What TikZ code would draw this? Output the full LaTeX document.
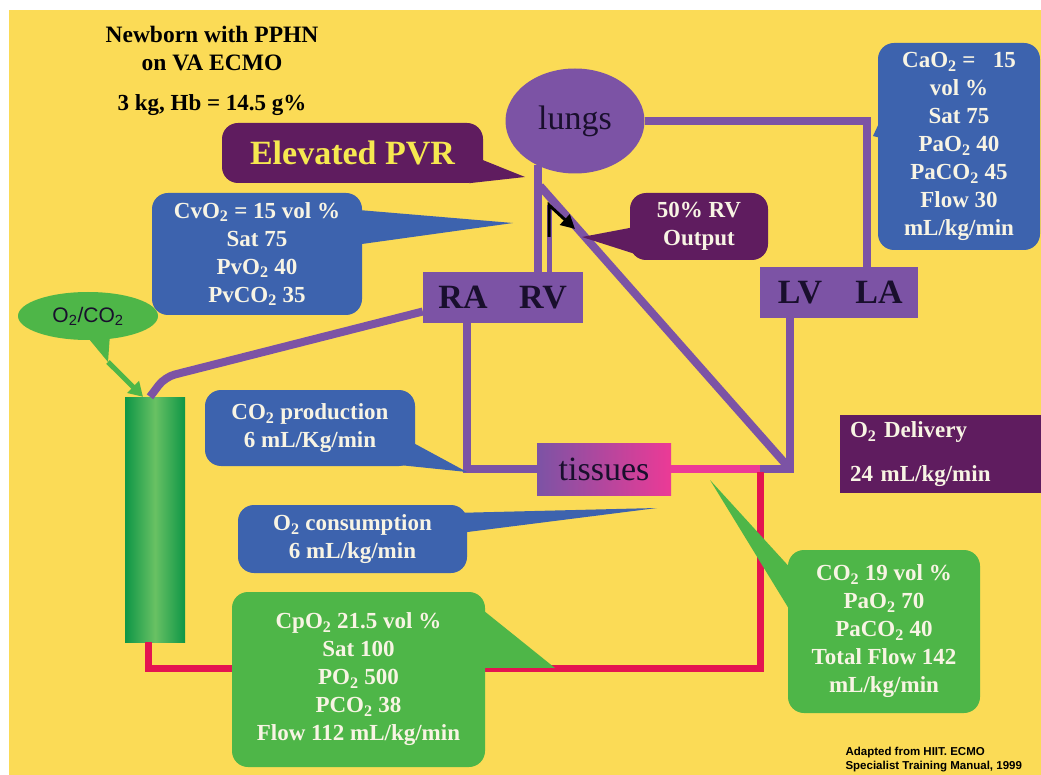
\documentclass[tikz,border=0pt]{standalone}
\usepackage{fontspec}
\setmainfont{Liberation Serif}
\newfontfamily\creditfont{Liberation Sans}
\usetikzlibrary{shapes.geometric, arrows.meta, calc}
\definecolor{bgYellow}{RGB}{251,219,86}
\definecolor{heartPurple}{RGB}{124,83,165}
\definecolor{darkPurple}{RGB}{95,28,95}
\definecolor{calloutBlue}{RGB}{61,99,174}
\definecolor{calloutGreen}{RGB}{78,182,72}
\definecolor{tubeGreen}{RGB}{14,150,70}
\definecolor{bloodRed}{RGB}{228,20,80}
\definecolor{tissuePink}{RGB}{236,58,150}
\definecolor{pvrYellow}{RGB}{246,232,80}
\definecolor{inkDark}{RGB}{25,15,45}
\definecolor{paleText}{RGB}{248,244,228}
\newcommand{\two}{\textsubscript{2}}

\begin{document}
\begin{tikzpicture}[x=1pt, y=-1pt,
    vessel/.style={heartPurple, line width=8},
    thinvessel/.style={heartPurple, line width=5},
    bloodline/.style={bloodRed, line width=7},
    chamber/.style={fill=heartPurple, text=inkDark, inner sep=0,
      minimum width=80, minimum height=51, font=\bfseries\fontsize{34}{34}\selectfont},
    organ/.style={text=inkDark, inner sep=0, font=\fontsize{34}{34}\selectfont},
    note/.style={rounded corners=16, text=paleText, align=center, inner sep=0,
      font=\bfseries\fontsize{23}{28}\selectfont},
    bluenote/.style={note, fill=calloutBlue},
    greennote/.style={note, fill=calloutGreen},
    darknote/.style={note, fill=darkPurple}]
  \useasboundingbox (0,0) rectangle (1041,775);
  \fill[white] (0,0) rectangle (1041,775);
  \fill[bgYellow] (9,10) rectangle (1041,775);

  % title
  \node[align=center, font=\bfseries\fontsize{23.5}{28}\selectfont] (title) at (212,49) {Newborn with PPHN\\on VA ECMO};
  \node[font=\bfseries\fontsize{23}{23}\selectfont] (weight) at (212,105) {3 kg, Hb = 14.5 g\%};

  % heart, lungs and tissues
  \node[ellipse, fill=heartPurple, minimum width=139, minimum height=105, organ] (lungs) at (575,121) {lungs};
  \node[chamber] (ra) at (463,297.5) {RA};
  \node[chamber] (rv) at (543,297.5) {RV};
  \node[chamber] (lv) at (800,292.5) {LV};
  \node[chamber, minimum width=78] (la) at (879,292.5) {LA};
  \node[organ, left color=heartPurple, right color=tissuePink, minimum width=134, minimum height=52] (tissues) at (604,469) {tissues};

  % oxygenator
  \node[left color=tubeGreen, right color=tubeGreen, middle color=calloutGreen!85!white,
    minimum width=60, minimum height=245, inner sep=0] (oxy) at (155,519.5) {};
  \node[ellipse, fill=calloutGreen, minimum width=140, minimum height=48, inner sep=0,
    text=inkDark, font=\creditfont\fontsize{21}{21}\selectfont] (gas) at (88,316) {O\two/CO\two};

  \coordinate (kink) at (549,205);
  \coordinate (shunt) at (540,186);
  \coordinate (corner) at (790,469);
  \coordinate (ret) at (760,469);
  \coordinate (drain) at (165,377);
  \coordinate (bend) at (148,668);
  \coordinate (gastail) at (108,362);

  % circuit lines
  \draw[vessel] (lungs.east) -| ([xshift=-12]la.north);
  \draw[vessel] (lungs.230) -- (lungs.230 |- rv.north);
  \draw[thinvessel] (kink) -- (kink |- rv.north);
  \draw[vessel] (shunt) -- (corner);
  \draw[vessel] (corner |- lv.south) -- (corner) -- (ret);
  \draw[vessel] ([xshift=4]ra.south) |- (tissues.west);
  \draw[vessel, rounded corners=10] ([yshift=-14]ra.west) -- (drain) -- ([xshift=-5]oxy.north);
  \draw[tissuePink, line width=8] (tissues.east) -- (ret);
  \draw[bloodline] ([yshift=-3]ret) |- (bend) -- (bend |- oxy.south);
  \draw[black, line width=3, -{Triangle[length=14, width=14]}] ([yshift=-32]kink) -- (kink) -- (575,229);

  % gas supply
  \fill[calloutGreen] ($(gas.south)+(-3,-6)$) -- (gastail) -- ($(gas.south)+(22,-6)$) -- cycle;
  \draw[calloutGreen, line width=5, -{Triangle[length=14, width=16]}] (gastail) -- ([xshift=-12]oxy.north);

  % callouts
  \node[darknote, minimum width=261, minimum height=60, text=pvrYellow,
    font=\bfseries\fontsize{34}{34}\selectfont] (pvr) at (352.5,153) {Elevated PVR};
  \fill[darkPurple] ($(pvr.north east)+(-6,35)$) -- (525,177) -- ($(pvr.south east)+(-14,0)$) -- cycle;

  \node[bluenote, minimum width=210, minimum height=122] (cvo) at (257,254)
    {CvO\two{} = 15 vol \%\\Sat 75\\PvO\two{} 40\\PvCO\two{} 35};
  \fill[calloutBlue] ($(cvo.north east)+(-6,17)$) -- (513,223) -- ($(cvo.north east)+(-6,52)$) -- cycle;

  \node[darknote, minimum width=138, minimum height=67] (rvout) at (699,226.5) {50\% RV\\Output};
  \fill[darkPurple] ($(rvout.north west)+(6,34)$) -- (582,237) -- ($(rvout.south west)+(6,-6)$) -- cycle;

  \node[bluenote, minimum width=162, minimum height=207] (cao) at (959,146.5)
    {CaO\two{} =~~~15\\vol \%\\Sat 75\\PaO\two{} 40\\PaCO\two{} 45\\Flow 30\\mL/kg/min};
  \fill[calloutBlue] ($(cao.north west)+(6,70)$) -- (873,136) -- ($(cao.north west)+(6,96)$) -- cycle;

  \node[bluenote, minimum width=210, minimum height=76] (co2prod) at (310,428)
    {CO\two{} production\\6 mL/Kg/min};
  \fill[calloutBlue] ($(co2prod.north east)+(-4,52)$) -- (467,472) -- ($(co2prod.south east)+(-24,-2)$) -- cycle;

  \node[bluenote, minimum width=229, minimum height=68] (o2cons) at (352.5,539)
    {O\two{} consumption\\6 mL/kg/min};
  \fill[calloutBlue] ($(o2cons.north east)+(-6,8)$) -- (657,508) -- ($(o2cons.north east)+(-6,28)$) -- cycle;

  \node[greennote, minimum width=253, minimum height=175] (cpo) at (358.5,679.5)
    {CpO\two{} 21.5 vol \%\\Sat 100\\PO\two{} 500\\PCO\two{} 38\\Flow 112 mL/kg/min};
  \fill[calloutGreen] ($(cpo.north east)+(-20,4)$) -- (555,668) -- ($(cpo.north east)+(-4,76)$) -- cycle;

  \node[greennote, minimum width=192, minimum height=163] (co2r) at (884,631.5)
    {CO\two{} 19 vol \%\\PaO\two{} 70\\PaCO\two{} 40\\Total Flow 142\\mL/kg/min};
  \fill[calloutGreen] ($(co2r.north west)+(6,22)$) -- (710,480) -- ($(co2r.north west)+(6,67)$) -- cycle;

  \node[fill=darkPurple, text=paleText, minimum width=201, minimum height=78, inner sep=0,
    text width=181, align=left, font=\bfseries\fontsize{23}{44}\selectfont] (o2del) at (940.5,454)
    {O\two{} Delivery\\24 mL/kg/min};

  % source
  \node[anchor=west, align=left, font=\creditfont\bfseries\fontsize{11.5}{14}\selectfont] (credit) at (842,760)
    {Adapted from HIIT. ECMO\\Specialist Training Manual, 1999};
\end{tikzpicture}
\end{document}
